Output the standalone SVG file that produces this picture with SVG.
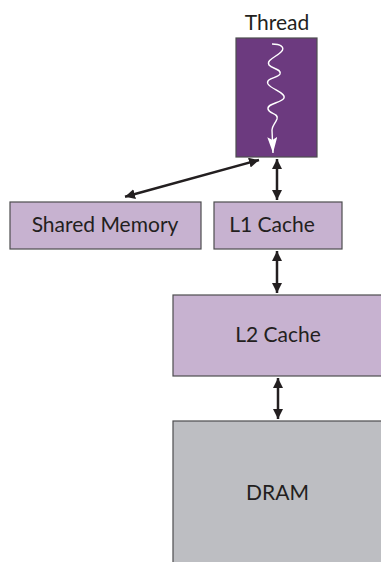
<svg xmlns="http://www.w3.org/2000/svg" width="381" height="562" viewBox="0 0 381 562">
<defs>
<marker id="ah" viewBox="0 0 10 10" refX="10" refY="5" markerWidth="4" markerHeight="4" orient="auto-start-reverse" markerUnits="strokeWidth">
<path d="M0,0 L10,5 L0,10 z" fill="#231f20"/>
</marker>
<marker id="wh" viewBox="0 0 16 10" refX="16" refY="5" markerWidth="16" markerHeight="10" orient="auto" markerUnits="userSpaceOnUse">
<path d="M0,0 L16,5 L0,10 L3,5 z" fill="#ffffff"/>
</marker>
</defs>
<style>
.box{stroke:#4d4d4f;stroke-width:1.2}
.lp{fill:#c7b2d0}
.lbl{font-family:Lato,"Open Sans","Liberation Sans",sans-serif;font-size:21px;fill:#231f20;text-anchor:middle}
.conn{stroke:#231f20;stroke-width:2.5;fill:none;marker-start:url(#ah);marker-end:url(#ah)}
</style>
<rect width="381" height="562" fill="#ffffff"/>
<g id="thread">
<text class="lbl" x="277" y="30">Thread</text>
<rect class="box" x="236" y="38" width="81" height="119" fill="#6c3a7f"/>
<path d="M272,44 C280,44 286,47 281,52 C276,57 266,60 269,65 C272,69 282,69 280,74 C278,78 265,78 268,84 C271,89 286,93 284,98 C282,103 267,103 268,109 C269,114 279,113 277,119 C275,124 272,126 272,130 L273,153" fill="none" stroke="#ffffff" stroke-width="1.4" marker-end="url(#wh)"/>
</g>
<g id="shared-memory">
<rect class="box lp" x="10" y="202" width="191" height="47"/>
<text class="lbl" x="105" y="232">Shared Memory</text>
</g>
<g id="l1-cache">
<rect class="box lp" x="214" y="202" width="128" height="47"/>
<text class="lbl" x="272" y="232">L1 Cache</text>
</g>
<g id="l2-cache">
<rect class="box lp" x="173" y="295" width="212" height="81"/>
<text class="lbl" x="278" y="342">L2 Cache</text>
</g>
<g id="dram">
<rect class="box" x="173" y="421" width="212" height="145" fill="#bdbec2"/>
<text class="lbl" x="277.5" y="500">DRAM</text>
</g>
<g id="connectors">
<line class="conn" x1="277" y1="159" x2="277" y2="200"/>
<line class="conn" x1="277" y1="251" x2="277" y2="293"/>
<line class="conn" x1="278" y1="378" x2="278" y2="419"/>
<line class="conn" x1="125" y1="196.7" x2="259" y2="160"/>
</g>
</svg>
